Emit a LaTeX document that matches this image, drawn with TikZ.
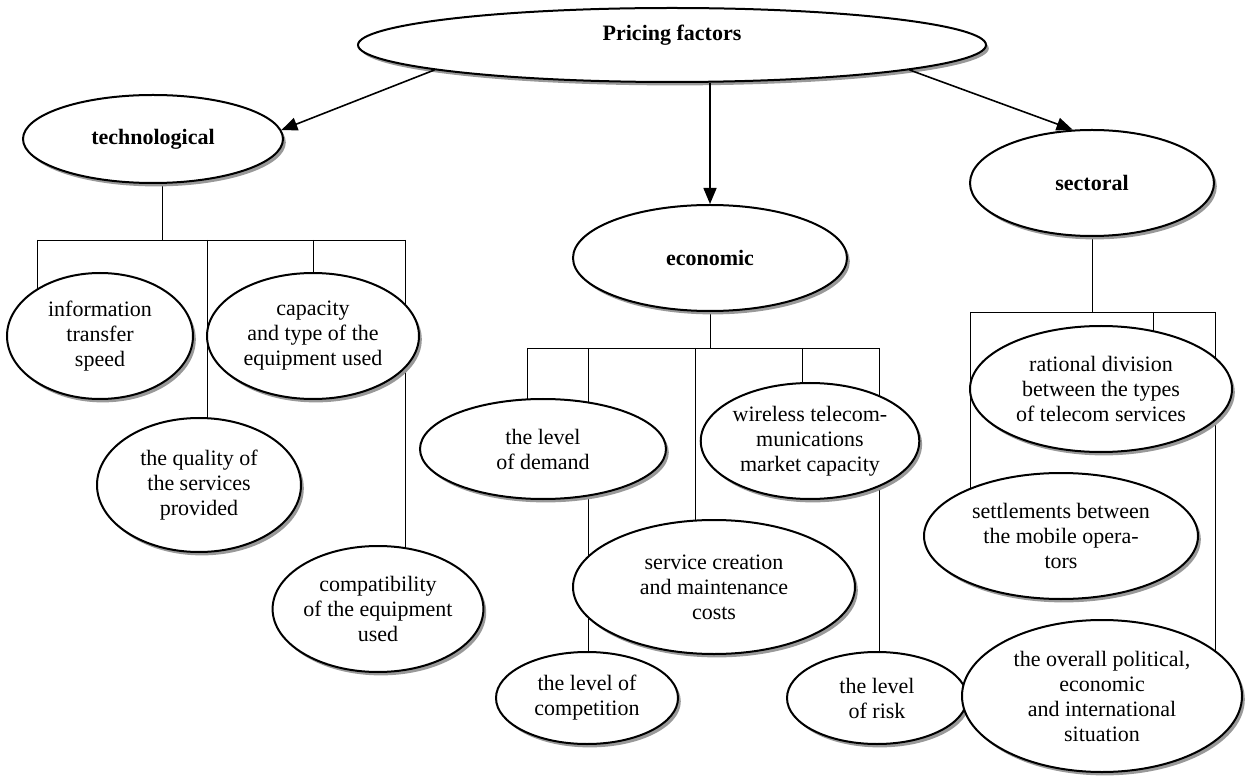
\documentclass[tikz,border=0pt]{standalone}
\usepackage{fontspec}
\setmainfont{Liberation Serif}
\usetikzlibrary{shapes.geometric,arrows.meta,shadows,backgrounds}
\begin{document}
\begin{tikzpicture}[x=0.5pt, y=-0.5pt,
    factor/.style args={#1/#2}{ellipse, draw, line width=1pt, fill=white, minimum width=#1pt, minimum height=#2pt, inner sep=0pt, align=center, font=\fontsize{11}{12.5}\selectfont, drop shadow={shadow xshift=1.4pt, shadow yshift=-1.7pt, fill=gray!80, opacity=1}},
    kind/.style={factor=#1, font=\fontsize{11}{12.5}\selectfont\bfseries},
    arrow/.style={-{Triangle[length=8pt, width=6.5pt]}, line width=0.8pt},
    link/.style={line width=0.8pt}
]
    \useasboundingbox (0,0) rectangle (1247,780);

    \node[kind=314/37] (pricing) at (672,45) {\raisebox{5pt}[\height][\depth]{Pricing factors}};
    \node[kind=130/44] (tech) at (153,139) {technological};
    \node[kind=137/53] (econ) at (710,258) {economic};
    \node[kind=122/53] (sect) at (1092,183) {sectoral};

    \node[factor=93/63] (info) at (100,336) {information\\transfer\\speed};
    \node[factor=106/63] (capac) at (313,336) {capacity\\and type of the\\equipment used};
    \node[factor=102/67] (quality) at (199,485) {the quality of\\the services\\provided};
    \node[factor=104/63] (compat) at (378,609) {compatibility\\of the equipment\\used};

    \node[factor=123/50] (demand) at (543,449) {the level\\of demand};
    \node[factor=108/58] (wireless) at (810,441) {wireless telecom-\\munications\\market capacity};
    \node[factor=141/67] (service) at (714,587) {service creation\\and maintenance\\costs};
    \node[factor=91/46] (compet) at (587,698) {the level of\\competition};
    \node[factor=90/46] (risk) at (877,698) {the level\\of risk};

    \node[factor=131/63] (rational) at (1101,389) {rational division\\between the types\\of telecom services};
    \node[factor=137/63] (settle) at (1061,536) {settlements between\\the mobile opera-\\tors};
    \node[factor=140/76] (overall) at (1102,696) {the overall political,\\economic\\and international\\situation};

    \coordinate (tb) at (162,240);
    \coordinate (tb1) at (37,240);
    \coordinate (tb2) at (207,240);
    \coordinate (tb3) at (313,240);
    \coordinate (tb4) at (405,240);
    \coordinate (eb) at (710,348);
    \coordinate (eb1) at (527,348);
    \coordinate (eb2) at (588,348);
    \coordinate (eb3) at (695,348);
    \coordinate (eb4) at (802,348);
    \coordinate (eb5) at (879,348);
    \coordinate (sb) at (1092,312);
    \coordinate (sb1) at (970,312);
    \coordinate (sb2) at (1153,312);
    \coordinate (sb3) at (1215,312);

    \begin{scope}[on background layer, link]
        \draw (tb |- tech.center) -- (tb);
        \draw (tb1) -- (tb4);
        \foreach \c/\n in {tb1/info, tb2/quality, tb3/capac, tb4/compat}
            \draw (\c) -- (\c |- \n.center);
        \draw (econ) -- (eb);
        \draw (eb1) -- (eb5);
        \foreach \c/\n in {eb1/demand, eb2/compet, eb3/service, eb4/wireless, eb5/risk}
            \draw (\c) -- (\c |- \n.center);
        \draw (sect) -- (sb);
        \draw (sb1) -- (sb3);
        \foreach \c/\n in {sb1/settle, sb2/rational, sb3/overall}
            \draw (\c) -- (\c |- \n.center);
    \end{scope}

    \draw[arrow] (pricing.186) -- (tech.4);
    \draw[arrow] (econ.north |- pricing.south) -- (econ);
    \draw[arrow] (pricing.-6) -- (sect.110);
\end{tikzpicture}
\end{document}
